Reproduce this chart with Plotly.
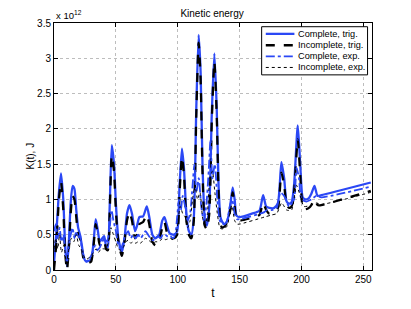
import plotly.graph_objects as go

# Complete, trig.
t_ct = [0,2,4,5.7,7.5,9,10.5,12,13.5,15,16.5,18,19.5,21,22.5,24,26,28,30,32,33.7,35.5,37,39,40.5,42,43.5,45,46.7,48.5,50,52,54.8,57,59,61,63,65.5,67,69,72,75,77,79.5,82,85,87.5,89.3,91,93.5,97,99.5,101.5,103.4,105,107,109,111,113,115,116.9,118.5,120,122,123.5,125.5,127.5,129.6,131.5,133,134.5,136,138,140,142,144.4,146,147.5,150,160,166,169,171.5,174,178,181,183.8,186,188,190,192,194,197,199,201,203,206,208,210.5,213,216,256]
k_ct = [0.1,0.55,1.1,1.37,1.0,0.35,0.05,0.4,0.95,1.19,1.15,0.85,0.6,0.5,0.35,0.18,0.12,0.13,0.15,0.4,0.72,0.55,0.4,0.45,0.48,0.35,0.32,0.9,1.77,1.5,0.95,0.45,0.25,0.45,0.8,0.92,0.8,0.55,0.62,0.75,0.76,0.9,0.75,0.5,0.45,0.5,0.7,0.75,0.65,0.52,0.5,0.55,1.2,1.72,1.45,0.8,0.55,0.5,0.75,2.3,3.33,2.8,1.5,0.7,0.63,0.9,2.2,3.07,2.3,1.2,0.75,0.68,0.65,0.7,0.85,1.17,1.0,0.77,0.75,0.8,0.84,1.06,0.9,0.88,0.88,0.95,1.53,1.3,0.97,0.94,0.96,1.2,2.05,1.5,1.03,1.0,1.02,1.08,1.19,1.05,1.06,1.24]

# Incomplete, trig.
t_it = t_ct
k_it = [0.0,0.4,1.0,1.25,0.85,0.25,0.0,0.3,0.8,1.05,1.0,0.75,0.5,0.45,0.3,0.15,0.1,0.1,0.12,0.35,0.65,0.5,0.35,0.4,0.42,0.3,0.28,0.8,1.62,1.4,0.85,0.4,0.2,0.4,0.7,0.82,0.7,0.45,0.5,0.65,0.68,0.78,0.65,0.4,0.35,0.42,0.6,0.68,0.55,0.45,0.45,0.5,1.1,1.6,1.35,0.7,0.5,0.45,0.7,2.2,3.22,2.7,1.4,0.62,0.58,0.8,2.1,2.95,2.2,1.1,0.65,0.6,0.62,0.68,0.8,1.1,0.9,0.72,0.7,0.74,0.78,0.95,0.85,0.8,0.82,0.88,1.38,1.2,0.92,0.88,0.9,1.1,1.85,1.35,0.9,0.86,0.88,0.92,1.0,0.92,0.92,1.12]

# Complete, exp.
t_ce = [0,1.5,3,4.5,6,7.5,9,10.5,12,13.5,15,16.5,18,19.5,21,22.5,24,26,28,30,32,33.5,35,37,39,41,43,45,46.5,48,50,52,54,56,58,60,62,64,66,68,70,72,74,76,78,80,82,84,86,88,90,92,94,96,98,99.5,101,102.5,104,106,108,110,112,113.5,115,117,119,121,123,125,126.5,128,130,132,134,136,138,140,142,144,146,148,150,170,172,176,180,183,186,190,194,196,198,200,204,208,212,216,256]
k_ce = [0.55,0.65,0.45,0.6,0.4,0.5,0.3,0.1,0.35,0.5,0.6,0.45,0.55,0.45,0.5,0.3,0.2,0.12,0.15,0.2,0.3,0.35,0.28,0.32,0.4,0.45,0.4,0.6,0.85,0.7,0.55,0.35,0.3,0.4,0.5,0.55,0.45,0.5,0.45,0.5,0.45,0.5,0.55,0.5,0.45,0.42,0.45,0.48,0.45,0.5,0.5,0.47,0.48,0.45,0.5,0.75,1.0,0.85,1.05,0.9,0.7,0.8,1.2,1.5,1.1,1.3,0.9,0.7,0.9,1.4,1.85,1.3,1.5,1.0,0.7,0.65,0.65,0.7,0.9,1.0,0.8,0.72,0.72,0.82,0.85,0.85,0.88,1.1,1.05,0.9,1.0,1.45,1.3,1.0,0.97,1.0,1.05,1.03,1.18]

# Incomplete, exp.
t_ie = [0,1.5,3,4.5,6,8,10,12,14,16,18,20,22,24,26,28,30,32,34,36,38,40,42,44,46,48,50,52,54,56,58,60,62,64,66,68,70,72,74,76,78,80,82,84,86,88,90,92,94,96,98,100,102,104,106,108,110,112,114,116,118,120,122,124,126,128,130,132,134,136,138,140,142,144,146,148,150,170,176,180,184,188,192,196,199,202,208,212,216,256]
k_ie = [0.3,0.45,0.3,0.5,0.25,0.35,0.1,0.3,0.45,0.4,0.5,0.35,0.3,0.2,0.15,0.17,0.2,0.25,0.3,0.25,0.3,0.3,0.3,0.4,0.6,0.5,0.4,0.3,0.28,0.32,0.4,0.42,0.38,0.4,0.38,0.4,0.38,0.42,0.45,0.43,0.4,0.38,0.4,0.4,0.42,0.45,0.43,0.44,0.45,0.43,0.45,0.65,0.9,0.8,0.75,0.6,0.7,1.0,1.2,1.0,1.1,0.75,0.6,0.8,1.3,1.4,1.1,0.8,0.6,0.58,0.6,0.62,0.8,0.9,0.7,0.65,0.65,0.75,0.78,0.8,0.95,0.85,0.85,1.2,1.05,0.9,0.92,0.95,0.93,1.1]

series_names = ["Complete, trig.", "Incomplete, trig.", "Complete, exp.", "Incomplete, exp."]
x_ticks = [0, 50, 100, 150, 200, 250]
y_ticks = [0, 0.5, 1, 1.5, 2, 2.5, 3, 3.5]
y_ticklabels = ["0", "0.5", "1", "1.5", "2", "2.5", "3", "3.5"]

SCALE = 1e12
BLUE = "#2b48f5"
styles = [
    dict(color=BLUE, width=2.3, dash="solid"),
    dict(color="black", width=2.3, dash="dash"),
    dict(color=BLUE, width=1.8, dash="dashdot"),
    dict(color="black", width=1, dash="dot"),
]
data = [(t_ct, k_ct), (t_it, k_it), (t_ce, k_ce), (t_ie, k_ie)]

fig = go.Figure()
for (tt, kk), name, st in zip(data, series_names, styles):
    fig.add_trace(go.Scatter(x=tt, y=[v * SCALE for v in kk], mode="lines", name=name,
                             line=dict(shape="spline", smoothing=0.6, **st)))

# legend box drawn in paper coordinates (compact, like the reference)
shapes = [dict(type="rect", xref="paper", yref="paper", x0=0.653, x1=0.986, y0=0.790, y1=0.985,
               line=dict(color="black", width=1), fillcolor="white", layer="above")]
annotations = []
row_y = [0.956, 0.910, 0.865, 0.820]
for yy, name, st in zip(row_y, series_names, styles):
    shapes.append(dict(type="line", xref="paper", yref="paper", x0=0.666, x1=0.756, y0=yy, y1=yy,
                       line=dict(color=st["color"], width=st["width"], dash=st["dash"]), layer="above"))
    annotations.append(dict(text=name, xref="paper", yref="paper", x=0.761, y=yy, xanchor="left",
                            yanchor="middle", showarrow=False, font=dict(size=9.2)))

annotations.append(dict(text="x 10<sup>12</sup>", xref="paper", yref="paper", x=0.0, y=1.0,
                        xanchor="left", yanchor="bottom", showarrow=False, font=dict(size=9.5)))
annotations.append(dict(text="K(t), J", xref="paper", yref="paper", x=-0.075, y=0.46,
                        xanchor="center", yanchor="middle", textangle=-90, showarrow=False,
                        font=dict(size=10)))

fig.update_layout(
    width=411, height=309,
    margin=dict(l=54, r=39, t=23, b=35),
    paper_bgcolor="white", plot_bgcolor="white",
    font=dict(family="Liberation Sans, Arial, sans-serif", size=10, color="black"),
    title=dict(text="Kinetic energy", x=0.516, xanchor="center", y=0.955, yanchor="middle",
               font=dict(size=10)),
    showlegend=False,
    xaxis=dict(range=[0, 257], tickvals=x_ticks, showgrid=True, gridcolor="#bdbdbd",
               griddash="dot", gridwidth=1, showline=True, linecolor="black", linewidth=1,
               mirror="ticks", ticks="inside", ticklen=4, tickcolor="black", zeroline=False,
               title=dict(text="t", standoff=4), tickfont=dict(size=10)),
    yaxis=dict(range=[0, 3.5 * SCALE], tickvals=[v * SCALE for v in y_ticks], ticktext=y_ticklabels,
               showgrid=True, gridcolor="#bdbdbd", griddash="dot", gridwidth=1,
               showline=True, linecolor="black", linewidth=1, mirror="ticks", ticks="inside",
               ticklen=4, tickcolor="black", zeroline=False, tickfont=dict(size=10)),
    shapes=shapes,
    annotations=annotations,
)

fig.write_html("out.html", config={"displayModeBar": False},
               post_script="document.body.style.margin='0';")
